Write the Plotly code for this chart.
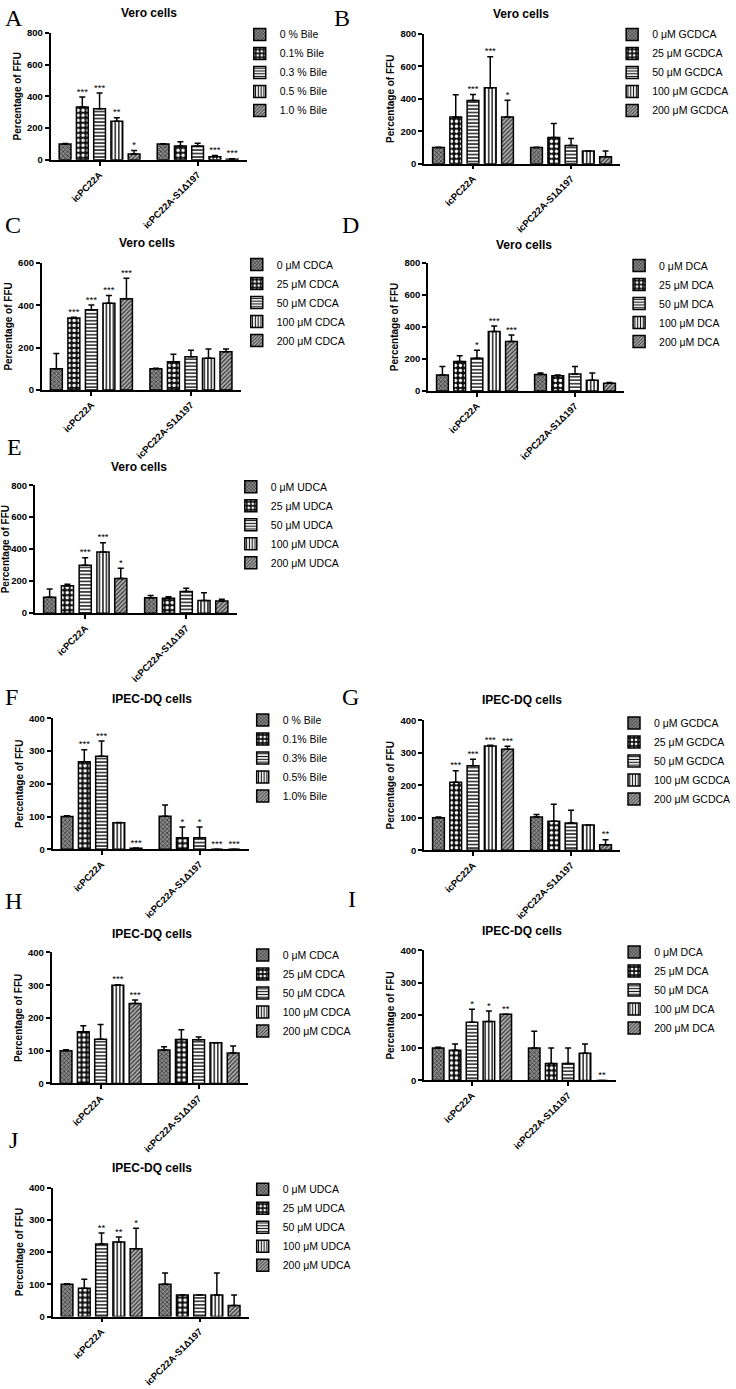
import plotly.graph_objects as go

W, H = 736, 1389

GROUPS = ["icPC22A", "icPC22A-S1Δ197"]

# ---------------- data (mean, upper error, significance) ----------------
A_LEG = ["0 % Bile", "0.1% Bile", "0.3 % Bile", "0.5 % Bile", "1.0 % Bile"]
A_G1 = [100, 332, 322, 243, 37]
A_G1E = [2, 63, 98, 21, 21]
A_G1S = ["", "***", "***", "**", "*"]
A_G2 = [100, 87, 87, 19, 4]
A_G2E = [1, 27, 17, 8, 2]
A_G2S = ["", "", "", "***", "***"]

B_LEG = ["0 μM GCDCA", "25 μM GCDCA", "50 μM GCDCA", "100 μM GCDCA", "200 μM GCDCA"]
B_G1 = [100, 287, 389, 468, 287]
B_G1E = [1, 137, 38, 190, 104]
B_G1S = ["", "", "***", "***", "*"]
B_G2 = [100, 161, 112, 78, 43]
B_G2E = [1, 86, 43, 1, 35]
B_G2S = ["", "", "", "", ""]

C_LEG = ["0 μM CDCA", "25 μM CDCA", "50 μM CDCA", "100 μM CDCA", "200 μM CDCA"]
C_G1 = [100, 340, 379, 410, 431]
C_G1E = [72, 3, 22, 36, 97]
C_G1S = ["", "***", "***", "***", "***"]
C_G2 = [100, 133, 157, 150, 180]
C_G2E = [3, 36, 31, 43, 14]
C_G2S = ["", "", "", "", ""]

D_LEG = ["0 μM DCA", "25 μM DCA", "50 μM DCA", "100 μM DCA", "200 μM DCA"]
D_G1 = [100, 184, 205, 371, 309]
D_G1E = [52, 36, 50, 35, 41]
D_G1S = ["", "", "*", "***", "***"]
D_G2 = [102, 95, 106, 66, 48]
D_G2E = [10, 5, 47, 46, 5]
D_G2S = ["", "", "", "", ""]

E_LEG = ["0 μM UDCA", "25 μM UDCA", "50 μM UDCA", "100 μM UDCA", "200 μM UDCA"]
E_G1 = [99, 172, 300, 382, 217]
E_G1E = [52, 8, 47, 58, 64]
E_G1S = ["", "", "***", "***", "*"]
E_G2 = [97, 93, 136, 79, 76]
E_G2E = [13, 10, 19, 49, 11]
E_G2S = ["", "", "", "", ""]

F_LEG = ["0 % Bile", "0.1% Bile", "0.3% Bile", "0.5% Bile", "1.0% Bile"]
F_G1 = [100, 267, 284, 81, 3]
F_G1E = [2, 37, 47, 1, 1]
F_G1S = ["", "***", "***", "", "***"]
F_G2 = [101, 35, 35, 0, 0]
F_G2E = [34, 33, 33, 0, 0]
F_G2S = ["", "*", "*", "***", "***"]

G_LEG = ["0 μM GCDCA", "25 μM GCDCA", "50 μM GCDCA", "100 μM GCDCA", "200 μM GCDCA"]
G_G1 = [100, 209, 260, 321, 311]
G_G1E = [2, 36, 20, 2, 9]
G_G1S = ["", "***", "***", "***", "***"]
G_G2 = [102, 89, 84, 78, 17]
G_G2E = [8, 53, 39, 0, 15]
G_G2S = ["", "", "", "", "**"]

H_LEG = ["0 μM CDCA", "25 μM CDCA", "50 μM CDCA", "100 μM CDCA", "200 μM CDCA"]
H_G1 = [100, 158, 135, 300, 244]
H_G1E = [3, 18, 45, 1, 11]
H_G1S = ["", "", "", "***", "***"]
H_G2 = [102, 134, 133, 124, 93]
H_G2E = [10, 30, 9, 0, 21]
H_G2S = ["", "", "", "", ""]

I_LEG = ["0 μM DCA", "25 μM DCA", "50 μM DCA", "100 μM DCA", "200 μM DCA"]
I_G1 = [100, 93, 179, 181, 204]
I_G1E = [2, 19, 40, 33, 0]
I_G1S = ["", "", "*", "*", "**"]
I_G2 = [100, 52, 52, 84, 0]
I_G2E = [51, 48, 48, 28, 0]
I_G2S = ["", "", "", "", "**"]

J_LEG = ["0 μM UDCA", "25 μM UDCA", "50 μM UDCA", "100 μM UDCA", "200 μM UDCA"]
J_G1 = [100, 88, 225, 231, 210]
J_G1E = [2, 28, 34, 16, 64]
J_G1S = ["", "", "**", "**", "*"]
J_G2 = [100, 67, 67, 67, 34]
J_G2E = [35, 0, 0, 68, 33]
J_G2S = ["", "", "", "", ""]

# ---------------- layout (pixel geometry of each panel) ----------------
# letter, title, data, y max, y dtick, axis x0,x1 (px), axis top,bottom (px),
# title centre, legend text start x / first-row y, letter pos
PANELS = [
    ("A", "Vero cells", (A_LEG, A_G1, A_G1E, A_G1S, A_G2, A_G2E, A_G2S), 800, 200, (48, 246), (27, 155), (147, 7), (280, 36), (0, 12)),
    ("B", "Vero cells", (B_LEG, B_G1, B_G1E, B_G1S, B_G2, B_G2E, B_G2S), 800, 200, (425, 623), (28, 159), (523, 8), (656, 36), (332, 12)),
    ("C", "Vero cells", (C_LEG, C_G1, C_G1E, C_G1S, C_G2, C_G2E, C_G2S), 600, 200, (39, 240), (259, 387), (145, 239), (277, 268), (0, 221)),
    ("D", "Vero cells", (D_LEG, D_G1, D_G1E, D_G1S, D_G2, D_G2E, D_G2S), 800, 200, (429, 627), (259, 388), (526, 241), (663, 269), (340, 221)),
    ("E", "Vero cells", (E_LEG, E_G1, E_G1E, E_G1S, E_G2, E_G2E, E_G2S), 800, 200, (32, 236), (483, 612), (137, 465), (271, 492), (2, 445)),
    ("F", "IPEC-DQ cells", (F_LEG, F_G1, F_G1E, F_G1S, F_G2, F_G2E, F_G2S), 400, 100, (50, 248), (718, 850), (150, 699), (283, 727), (0, 697)),
    ("G", "IPEC-DQ cells", (G_LEG, G_G1, G_G1E, G_G1S, G_G2, G_G2E, G_G2S), 400, 100, (425, 623), (720, 851), (524, 700), (658, 730), (340, 697)),
    ("H", "IPEC-DQ cells", (H_LEG, H_G1, H_G1E, H_G1S, H_G2, H_G2E, H_G2S), 400, 100, (49, 247), (954, 1086), (150, 935), (283, 964), (0, 902)),
    ("I", "IPEC-DQ cells", (I_LEG, I_G1, I_G1E, I_G1S, I_G2, I_G2E, I_G2S), 400, 100, (425, 619), (952, 1083), (524, 932), (658, 961), (346, 900)),
    ("J", "IPEC-DQ cells", (J_LEG, J_G1, J_G1E, J_G1S, J_G2, J_G2E, J_G2S), 400, 100, (50, 248), (1191, 1321), (150, 1171), (283, 1200), (4, 1143)),
]

PATTERNS = [
    dict(shape="x", fgcolor="#3a3a3a", bgcolor="#8a8a8a", size=3, solidity=0.45),
    dict(shape=".", fgcolor="#ffffff", bgcolor="#111111", size=5, solidity=0.35),
    dict(shape="-", fgcolor="#111111", bgcolor="#ffffff", size=3.5, solidity=0.4),
    dict(shape="|", fgcolor="#111111", bgcolor="#ffffff", size=3.5, solidity=0.4),
    dict(shape="/", fgcolor="#333333", bgcolor="#b0b0b0", size=3, solidity=0.4),
]

SLOT = 0.176
BARW = 0.12
FONT = "Liberation Sans"


def fx(p):
    return p / W


def fy(p):
    return 1 - p / H


fig = go.Figure()
layout = dict(
    width=W, height=H, autosize=False,
    margin=dict(l=0, r=0, t=0, b=0),
    paper_bgcolor="white", plot_bgcolor="white",
    barmode="overlay", showlegend=True,
    font=dict(family=FONT, color="black"),
)
annotations = []

for i, (letter, title, data, ymax, dtick, (x0, x1), (yt, yb), (tx, ty), (lx, ly), (ax, ay)) in enumerate(PANELS):
    n = i + 1
    xa = "x" if n == 1 else f"x{n}"
    ya = "y" if n == 1 else f"y{n}"
    lg = "legend" if n == 1 else f"legend{n}"
    leg, g1, g1e, g1s, g2, g2e, g2s = data
    for k in range(5):
        xs = [g + (k - 2) * SLOT for g in range(len(GROUPS))]
        ys = [g1[k], g2[k]]
        es = [g1e[k], g2e[k]]
        fig.add_trace(go.Bar(
            x=xs, y=ys, width=BARW, name=leg[k], legend=lg,
            xaxis=xa, yaxis=ya,
            marker=dict(color=PATTERNS[k]["bgcolor"], line=dict(color="black", width=1.5),
                        pattern=dict(**PATTERNS[k], fillmode="replace")),
            error_y=dict(type="data", symmetric=False, array=es, arrayminus=[0, 0],
                         color="black", thickness=1.5, width=3),
        ))
        fig.add_trace(go.Scatter(
            x=xs, y=[ys[j] + es[j] for j in range(2)], text=[g1s[k], g2s[k]],
            mode="text", textposition="top center",
            textfont=dict(size=9.5, family=FONT, color="black"),
            xaxis=xa, yaxis=ya, showlegend=False, hoverinfo="skip",
        ))
    layout["xaxis" if n == 1 else f"xaxis{n}"] = dict(
        domain=[fx(x0), fx(x1)], anchor=ya, range=[-0.5, 1.5],
        tickvals=list(range(len(GROUPS))), ticktext=GROUPS, tickangle=-45,
        tickfont=dict(size=9.5, family=FONT, weight="bold"),
        showline=True, linecolor="black", linewidth=1.5,
        ticks="outside", ticklen=4, tickwidth=1.5, tickcolor="black",
        showgrid=False, zeroline=False,
    )
    layout["yaxis" if n == 1 else f"yaxis{n}"] = dict(
        domain=[fy(yb), fy(yt)], anchor=xa, range=[0, ymax], dtick=dtick,
        tickfont=dict(size=9.5, family=FONT, weight="bold"),
        showline=True, linecolor="black", linewidth=1.5,
        ticks="outside", ticklen=4, tickwidth=1.5, tickcolor="black",
        showgrid=False, zeroline=False,
        title=dict(text="Percentage of FFU", font=dict(size=10, family=FONT, weight="bold"), standoff=4),
    )
    layout[lg] = dict(
        x=fx(lx - 41), y=fy(ly - 22), xanchor="left", yanchor="top",
        font=dict(size=10.5, family=FONT), bgcolor="rgba(0,0,0,0)",
        tracegroupgap=0, borderwidth=0,
    )
    annotations.append(dict(
        text=f"<b>{title}</b>", x=fx(tx), y=fy(ty), xref="paper", yref="paper",
        xanchor="center", yanchor="middle", showarrow=False,
        font=dict(size=12, family=FONT, color="black"),
    ))
    annotations.append(dict(
        text=letter, x=fx(ax), y=fy(ay), xref="paper", yref="paper",
        xanchor="left", yanchor="middle", showarrow=False,
        font=dict(size=24, family="Liberation Serif", color="black"),
    ))

layout["annotations"] = annotations
fig.update_layout(**layout)
fig.write_html(
    "out.html",
    config={"displayModeBar": False},
    post_script="document.body.style.margin='0';document.body.style.padding='0';document.body.style.overflow='hidden';",
)
